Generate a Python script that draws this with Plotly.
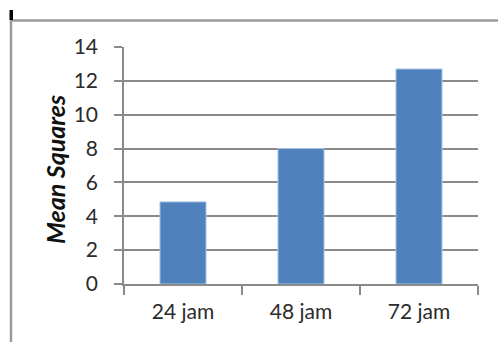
import plotly.graph_objects as go

categories = ["24 jam", "48 jam", "72 jam"]
values = [4.85, 8.0, 12.7]
y_ticks = [0, 2, 4, 6, 8, 10, 12, 14]
y_title = "Mean Squares"

W, H = 498, 342
L, R, T, B = 124, 20, 47, 58
pw, ph = W - L - R, H - T - B

def px_x(x):
    return (x - L) / pw

def px_y(y):
    return (H - B - y) / ph

fig = go.Figure()
fig.add_trace(go.Bar(
    x=categories, y=values, width=0.39,
    marker=dict(color="#4F81BD", line=dict(color="#A9C1E0", width=1)),
    hoverinfo="x+y",
))

font = "Lato, 'Open Sans', sans-serif"
fig.update_layout(
    width=W, height=H, autosize=False,
    margin=dict(l=L, r=R, t=T, b=B, pad=0),
    paper_bgcolor="white", plot_bgcolor="white",
    showlegend=False,
    font=dict(family=font, size=21, color="#2b2b2b"),
    xaxis=dict(
        type="category", tickson="boundaries", ticks="outside", ticklen=9,
        tickcolor="#8a8a8a", tickwidth=1.5,
        showline=True, linecolor="#8a8a8a", linewidth=1.5,
        showgrid=False, ticklabelstandoff=8,
        tickfont=dict(family=font, size=21, color="#2b2b2b"),
    ),
    yaxis=dict(
        range=[0, 14], tickvals=y_ticks, ticks="outside", ticklen=8,
        tickcolor="#8a8a8a", tickwidth=1.5,
        showline=True, linecolor="#8a8a8a", linewidth=1.5,
        showgrid=True, gridcolor="#8a8a8a", gridwidth=1.5,
        zeroline=False, ticklabelstandoff=12,
        tickfont=dict(family=font, size=21, color="#2b2b2b"),
    ),
    annotations=[dict(
        text="<b><i>" + y_title + "</i></b>", xref="paper", yref="paper",
        x=px_x(55), y=px_y(170), textangle=-90, showarrow=False,
        xanchor="center", yanchor="middle",
        font=dict(family=font, size=25, color="#111111"),
    )],
    shapes=[
        dict(type="line", xref="paper", yref="paper",
             x0=px_x(11), x1=px_x(W + 10), y0=px_y(20.5), y1=px_y(20.5),
             line=dict(color="#9a9a9a", width=2.5)),
        dict(type="line", xref="paper", yref="paper",
             x0=px_x(11), x1=px_x(11), y0=px_y(20), y1=px_y(H + 10),
             line=dict(color="#9a9a9a", width=2.5)),
        dict(type="rect", xref="paper", yref="paper",
             x0=px_x(9.5), x1=px_x(13), y0=px_y(10), y1=px_y(20),
             line=dict(width=0), fillcolor="black"),
    ],
)

fig.write_html("out.html")
